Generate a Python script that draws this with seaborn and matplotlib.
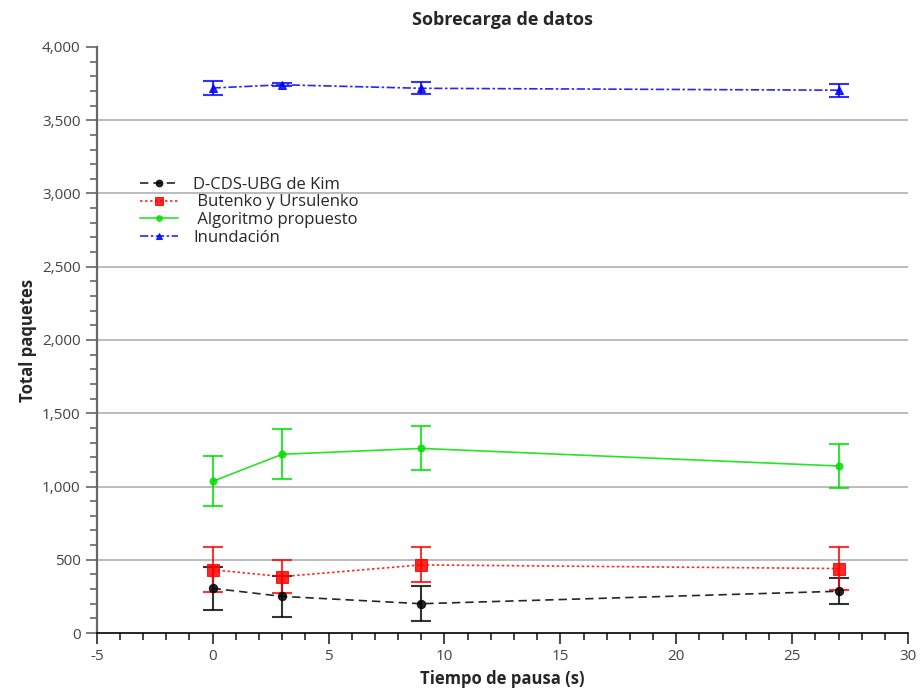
import matplotlib
matplotlib.use("Agg")
import matplotlib.pyplot as plt
import seaborn as sns
import pandas as pd
from matplotlib.ticker import MultipleLocator, FuncFormatter

pause = [0, 3, 9, 27]
kim = [305, 250, 200, 285]
kim_err = [145, 140, 120, 90]
butenko = [432, 385, 465, 440]
butenko_err = [155, 110, 120, 145]
propuesto = [1035, 1220, 1260, 1140]
propuesto_err = [170, 170, 150, 150]
inundacion = [3720, 3742, 3718, 3705]
inundacion_err = [50, 10, 40, 45]

labels = ["D-CDS-UBG de Kim", " Butenko y Ursulenko", " Algoritmo propuesto", "Inundación"]
series = [kim, butenko, propuesto, inundacion]
errs = [kim_err, butenko_err, propuesto_err, inundacion_err]
colors = ["#000000", "#ff0000", "#00e000", "#0000ff"]
styles = [(0, (5, 3)), (0, (1.5, 1.5)), "-", (0, (5, 1.5, 1.5, 1.5))]
markers = ["o", "s", "o", "^"]
msizes = [6, 8, 5, 6]

sns.set_style("white")
plt.rcParams["font.family"] = ["Open Sans", "DejaVu Sans"]

fig = plt.figure(figsize=(9.21, 6.96), dpi=100)
ax = fig.add_axes([0.105, 0.0905, 0.881, 0.842])

for lab, ys, es, c, ls, m, ms in zip(labels, series, errs, colors, styles, markers, msizes):
    df = pd.DataFrame({"x": pause, "y": ys})
    ax.errorbar(pause, ys, yerr=es, fmt="none", ecolor=c, elinewidth=1.5,
                capsize=7, capthick=1.5, alpha=0.8, zorder=2)
    sns.lineplot(data=df, x="x", y="y", ax=ax, color=c, linestyle=ls, marker=m,
                 markersize=ms, markeredgecolor=c, linewidth=1.2, label=lab, zorder=3,
                 alpha=0.85)

ax.set_xlim(-5, 30)
ax.set_ylim(0, 4000)
ax.xaxis.set_major_locator(MultipleLocator(5))
ax.xaxis.set_minor_locator(MultipleLocator(1))
ax.yaxis.set_major_locator(MultipleLocator(500))
ax.yaxis.set_minor_locator(MultipleLocator(100))
ax.yaxis.set_major_formatter(FuncFormatter(lambda v, p: f"{int(v):,}"))
ax.xaxis.set_major_formatter(FuncFormatter(lambda v, p: f"{int(v)}"))

for y in range(500, 4000, 500):
    ax.axhline(y, color="#b0b0b0", linewidth=1.2, zorder=1)

for s in ["top", "right"]:
    ax.spines[s].set_visible(False)
ax.spines["left"].set_color("#666666")
ax.spines["left"].set_linewidth(1.6)
ax.spines["bottom"].set_color("#000000")
ax.spines["bottom"].set_linewidth(1.2)

ax.tick_params(axis="both", which="major", direction="out", length=8, width=1.2,
               labelsize=11, labelcolor="#444444", left=True, bottom=True)
ax.tick_params(axis="both", which="minor", direction="out", length=5, width=1.2,
               left=True, bottom=True)
ax.tick_params(axis="y", which="both", color="#666666")

ax.set_xlabel("Tiempo de pausa (s)", fontsize=12, fontweight="bold", labelpad=4)
ax.set_ylabel("Total paquetes", fontsize=12, fontweight="bold", labelpad=4)
ax.set_title("Sobrecarga de datos", fontsize=13, fontweight="bold", pad=16)

leg = ax.legend(loc="upper left", bbox_to_anchor=(0.045, 0.79), frameon=False,
                fontsize=12, handlelength=2.3, labelspacing=0.1, borderaxespad=0,
                handletextpad=0.9, markerscale=0.8)

fig.savefig("out.png", dpi=100)
